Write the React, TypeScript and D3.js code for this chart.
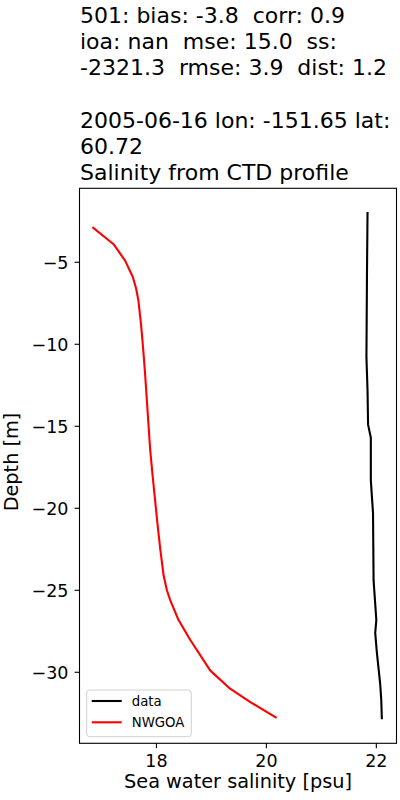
import React from "react";
import * as d3 from "d3";

const titleLines = [
  "501: bias: -3.8  corr: 0.9",
  "ioa: nan  mse: 15.0  ss:",
  "-2321.3  rmse: 3.9  dist: 1.2",
  "",
  "2005-06-16 lon: -151.65 lat:",
  "60.72",
  "Salinity from CTD profile",
];

const dataDepth = [-2, -5.7, -10.8, -12.8, -14.9, -15.7, -18.3, -20.3, -24.4, -26.8, -27.6, -28.8, -30.7, -31.7, -32.8];
const dataSal = [21.84, 21.83, 21.82, 21.84, 21.85, 21.9, 21.9, 21.94, 21.95, 22.0, 21.98, 22.01, 22.07, 22.09, 22.1];

const modelDepth = [-2.9, -3.9, -4.9, -5.9, -6.6, -7.3, -8.8, -10.35, -11.9, -13.4, -14.9, -16.4, -18.0, -19.5, -21.0, -22.5, -24.1, -25.0, -25.6, -26.8, -28.0, -29.9, -31.0, -31.8, -32.75];
const modelSal = [16.85, 17.22, 17.43, 17.57, 17.63, 17.67, 17.72, 17.76, 17.795, 17.825, 17.855, 17.885, 17.93, 17.975, 18.02, 18.07, 18.13, 18.19, 18.25, 18.4, 18.61, 18.98, 19.34, 19.7, 20.17];

const xTicks = [18, 20, 22];
const yTicks = [-5, -10, -15, -20, -25, -30];
const legendLabels = ["data", "NWGOA"];
const colors = ["#000000", "#ff0000"];

const W = 400, H = 800;
const left = 79.5, right = 396.5, top = 188.3, bottom = 743.3;
const font = "DejaVu Sans, sans-serif";

export default function App() {
  const x = d3.scaleLinear().domain([16.6, 22.367]).range([left, right]);
  const y = d3.scaleLinear().domain([-0.49, -34.33]).range([top, bottom]);
  const line = d3.line<[number, number]>().x(d => x(d[0])).y(d => y(d[1])).curve(d3.curveLinear);
  const dataPts = dataSal.map((s, i) => [s, dataDepth[i]] as [number, number]);
  const modelPts = modelSal.map((s, i) => [s, modelDepth[i]] as [number, number]);
  const fmt = (v: number) => (v < 0 ? "\u2212" + Math.abs(v) : String(v));

  return (
    <svg width={W} height={H} style={{ position: "absolute", left: 0, top: 0, background: "#fff" }}>
      <rect x={0} y={0} width={W} height={H} fill="#fff" />
      {titleLines.map((t, i) => (
        <text key={i} x={80} y={22.5 + i * 26.3} fontFamily={font} fontSize={22} fill="#000" style={{ whiteSpace: "pre" }}>{t}</text>
      ))}
      <path d={line(modelPts) || ""} fill="none" stroke={colors[1]} strokeWidth={2.1} strokeLinecap="square" strokeLinejoin="round" />
      <path d={line(dataPts) || ""} fill="none" stroke={colors[0]} strokeWidth={2.1} strokeLinecap="square" strokeLinejoin="round" />
      <rect x={left} y={top} width={right - left} height={bottom - top} fill="none" stroke="#000" strokeWidth={1.1} />
      {xTicks.map(t => (
        <g key={t}>
          <line x1={x(t)} x2={x(t)} y1={bottom} y2={bottom + 4.9} stroke="#000" strokeWidth={1.1} />
          <text x={x(t)} y={766.5} textAnchor="middle" fontFamily={font} fontSize={17.5}>{fmt(t)}</text>
        </g>
      ))}
      {yTicks.map(t => (
        <g key={t}>
          <line x1={left} x2={left - 4.9} y1={y(t)} y2={y(t)} stroke="#000" strokeWidth={1.1} />
          <text x={68.5} y={y(t)} dy="0.36em" textAnchor="end" fontFamily={font} fontSize={17.5}>{fmt(t)}</text>
        </g>
      ))}
      <text x={(left + right) / 2} y={788} textAnchor="middle" fontFamily={font} fontSize={19.3}>Sea water salinity [psu]</text>
      <text transform={`translate(18,${462}) rotate(-90)`} textAnchor="middle" fontFamily={font} fontSize={19.3}>Depth [m]</text>
      <rect x={86.7} y={690} width={104.6} height={46.7} rx={3} fill="#fff" fillOpacity={0.8} stroke="#d0d0d0" strokeWidth={1} />
      {legendLabels.map((l, i) => (
        <g key={l}>
          <line x1={91.7} x2={121.7} y1={701 + i * 21.3} y2={701 + i * 21.3} stroke={colors[i]} strokeWidth={2.1} />
          <text x={131.7} y={701 + i * 21.3} dy="0.36em" fontFamily={font} fontSize={13.3}>{l}</text>
        </g>
      ))}
    </svg>
  );
}
